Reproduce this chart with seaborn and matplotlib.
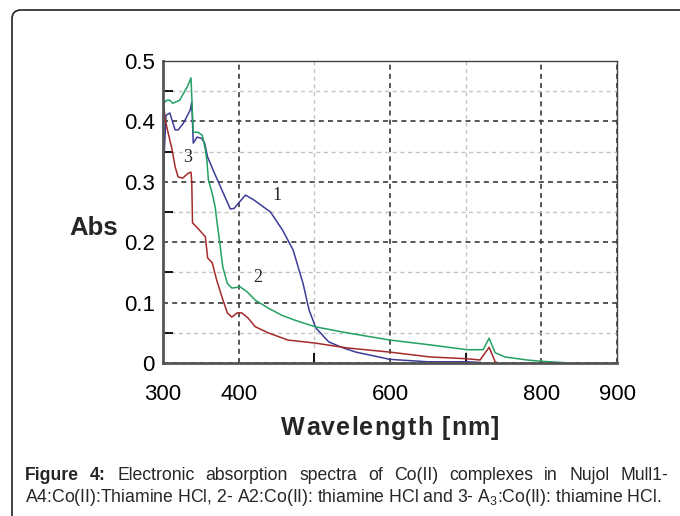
import matplotlib
matplotlib.use("Agg")
import numpy as np
import pandas as pd
import matplotlib.pyplot as plt
from matplotlib.patches import FancyBboxPatch
import seaborn as sns

# curve 1 (blue)
wl_1 = [300, 301, 304, 309, 316, 320, 327, 336, 338, 340, 345, 351, 355, 359, 366, 378,
        389, 394, 400, 409, 420, 442, 458, 472, 485, 493, 502, 519, 538, 555, 600, 650,
        700, 720]
abs_1 = [0.23, 0.33, 0.41, 0.414, 0.386, 0.386, 0.397, 0.419, 0.432, 0.364, 0.374, 0.372,
         0.364, 0.341, 0.32, 0.286, 0.255, 0.256, 0.265, 0.278, 0.27, 0.25, 0.22, 0.187,
         0.132, 0.088, 0.058, 0.035, 0.025, 0.018, 0.006, 0.002, 0.002, 0.001]

# curve 2 (green)
wl_2 = [300, 301, 305, 309, 313, 322, 332, 337, 340, 346, 352, 356, 358, 360, 365, 369,
        371, 375, 379, 385, 391, 402, 411, 422, 439, 457, 474, 501, 543, 600, 653, 702,
        723, 731, 739, 752, 781, 798, 838]
abs_2 = [0.0, 0.43, 0.435, 0.435, 0.43, 0.435, 0.457, 0.472, 0.382, 0.382, 0.377, 0.353,
         0.336, 0.303, 0.281, 0.258, 0.237, 0.199, 0.159, 0.132, 0.124, 0.126, 0.118, 0.104,
         0.091, 0.079, 0.071, 0.06, 0.05, 0.038, 0.03, 0.022, 0.022, 0.041, 0.017, 0.01,
         0.005, 0.003, 0.0]

# curve 3 (red)
wl_3 = [300, 303, 307, 312, 316, 320, 326, 333, 337, 338, 339, 346, 356, 359, 365, 371,
        378, 385, 391, 398, 404, 412, 422, 439, 465, 501, 543, 600, 653, 702, 719, 731,
        739, 743]
abs_3 = [0.44, 0.402, 0.38, 0.353, 0.325, 0.308, 0.306, 0.314, 0.316, 0.3, 0.232, 0.223,
         0.209, 0.174, 0.166, 0.137, 0.109, 0.083, 0.076, 0.083, 0.083, 0.075, 0.06, 0.05,
         0.038, 0.033, 0.025, 0.018, 0.01, 0.007, 0.005, 0.026, 0.002, 0.0]

x_major = [300, 400, 600, 800, 900]
x_minor = [500, 700]
y_major = [0, 0.1, 0.2, 0.3, 0.4, 0.5]
y_minor = [0.05, 0.15, 0.25, 0.35, 0.45]
y_labels = ["0", "0.1", "0.2", "0.3", "0.4", "0.5"]

curve_labels = ["1", "2", "3"]
label_pos = [(451, 0.278), (425, 0.142), (332, 0.34)]
colors = {"1": "#3c3c98", "2": "#23a062", "3": "#a52a2a"}

caption_1 = "Electronic absorption spectra of Co(II) complexes in Nujol Mull1-"
caption_2 = "A4:Co(II):Thiamine HCl, 2- A2:Co(II): thiamine HCl and 3- A$_3$:Co(II): thiamine HCl."

frames = []
for name, xs, ys in [("1", wl_1, abs_1), ("2", wl_2, abs_2), ("3", wl_3, abs_3)]:
    frames.append(pd.DataFrame({"wl": xs, "abs": ys, "curve": name}))
df = pd.concat(frames, ignore_index=True)

sns.set_theme(style="white")
plt.rcParams["font.family"] = ["Liberation Sans", "DejaVu Sans"]
plt.rcParams["mathtext.fontset"] = "custom"
plt.rcParams["mathtext.rm"] = "Liberation Sans"
plt.rcParams["mathtext.it"] = "Liberation Sans:italic"
plt.rcParams["mathtext.bf"] = "Liberation Sans:bold"

W, H = 680, 516
fig = plt.figure(figsize=(W / 100, H / 100), dpi=100)
ax = fig.add_axes([163 / W, (H - 363) / H, 454 / W, 302 / H])

sns.lineplot(data=df, x="wl", y="abs", hue="curve", palette=colors, estimator=None,
             sort=False, legend=False, ax=ax, linewidth=1.1)

ax.set_xlim(300, 900)
ax.set_ylim(0, 0.5)
ax.set_xticks(x_major)
ax.set_xticklabels([str(v) for v in x_major])
ax.set_xticks(x_minor, minor=True)
ax.set_yticks(y_major)
ax.set_yticklabels(y_labels)
ax.set_yticks(y_minor, minor=True)
ax.set_xlabel("")
ax.set_ylabel("")

ax.set_axisbelow(True)
ax.grid(which="major", color="#3a3a3a", linestyle=(0, (3, 2.5)), linewidth=1.2)
ax.grid(which="minor", color="#c4c4c4", linestyle=(0, (3, 2.5)), linewidth=1.0)

ax.tick_params(which="major", length=0, labelsize=16, labelcolor="black")
ax.tick_params(axis="x", which="major", pad=15)
ax.tick_params(axis="y", which="major", pad=6)
ax.tick_params(which="minor", direction="in", length=7, width=1.3, color="black",
               left=True, bottom=True, top=False, right=False)

for side in ["left", "bottom"]:
    ax.spines[side].set_linewidth(2)
    ax.spines[side].set_color("#555555")
for side in ["top", "right"]:
    ax.spines[side].set_linewidth(1)
    ax.spines[side].set_color("#444444")

for lab, (x, y) in zip(curve_labels, label_pos):
    ax.text(x, y, lab, fontsize=13, family="Liberation Serif", ha="center", va="center")

fig.text(118 / W, 1 - 228 / H, "Abs", fontsize=18.5, fontweight="bold", ha="right", va="center")

renderer = fig.canvas.get_renderer()

# letter-spaced axis title
title = "Wavelength [nm]"
chars = [fig.text(0, 0, c, fontsize=18, fontweight="bold", va="center") for c in title]
widths = [t.get_window_extent(renderer).width if c != " " else 0 for t, c in zip(chars, title)]
space_w = fig.text(0, 0, "n n", fontsize=18, fontweight="bold").get_window_extent(renderer).width
n_w = fig.text(0, 0, "nn", fontsize=18, fontweight="bold").get_window_extent(renderer).width
for t in fig.texts[-2:]:
    t.remove()
widths = [w if c != " " else (space_w - n_w) for w, c in zip(widths, title)]
extra = 1.2
total = sum(widths) + extra * (len(title) - 1)
x = 390 - total / 2
for t, w in zip(chars, widths):
    t.set_position((x / W, 1 - 428 / H))
    x += w + extra

# caption, first line justified
cap2 = fig.text(25 / W, 1 - 497 / H, caption_2, fontsize=10, va="center")
w2 = cap2.get_window_extent(renderer).width
cap_size = 10 * (662 - 25) / w2
cap2.set_fontsize(cap_size)

words = [("Figure", "bold"), ("4:", "bold")] + [(w, "normal") for w in caption_1.split()]
word_texts = [fig.text(0, 1 - 476 / H, w, fontsize=cap_size, fontweight=fw, va="center")
              for w, fw in words]
word_w = [t.get_window_extent(renderer).width for t in word_texts]
gap = ((668 - 25) - sum(word_w)) / (len(words) - 1)
x = 25
for t, w in zip(word_texts, word_w):
    t.set_x(x / W)
    x += w + gap

# rounded frame around the figure, cut off on the right and bottom
frame = FancyBboxPatch((0.12, -0.5), 7.5, 5.56, boxstyle="round,pad=0,rounding_size=0.09",
                       transform=fig.dpi_scale_trans, facecolor="none", edgecolor="#222222",
                       linewidth=1.2)
fig.patches.append(frame)

fig.savefig("out.png", dpi=100)
